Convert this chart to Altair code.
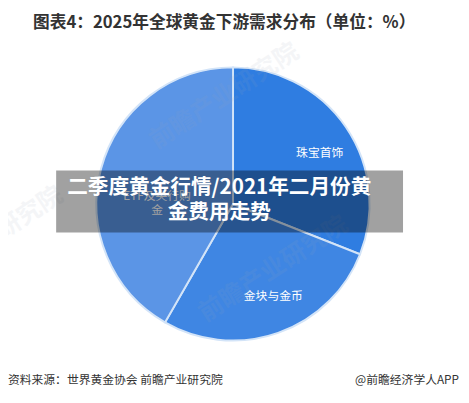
import altair as alt
import pandas as pd

# ---- data ----
categories = ["珠宝首饰", "金块与金币", "ETF及央行购金"]
values = [31.0, 27.3, 41.7]
slice_order = [1, 2, 3]
label_a = ["珠宝首饰", "", ""]
label_b = ["", "金块与金币", ""]
label_c = ["", "", "ETF及央行购\n金"]
colors = ["#2f7de1", "#3f86e3", "#5b95e6"]

title_text = "图表4：2025年全球黄金下游需求分布（单位：%）"
banner_lines = ["二季度黄金行情/2021年二月份黄", "金费用走势"]
source_text = "资料来源：世界黄金协会 前瞻产业研究院"
brand_text = "@前瞻经济学人APP"
watermark_text = "前瞻产业研究院"

FONT = "Noto Sans CJK SC"
CX, CY, R = 229, 196, 139

df = pd.DataFrame({
    "cat": categories,
    "val": values,
    "ord": slice_order,
    "la": label_a,
    "lb": label_b,
    "lc": label_c,
})

base = alt.Chart(df).encode(
    theta=alt.Theta("val:Q", stack=True),
    order=alt.Order("ord:Q"),
    x=alt.value(CX),
    y=alt.value(CY),
)

pie = base.mark_arc(outerRadius=R, stroke="#d3e4f8", strokeWidth=2).encode(
    color=alt.Color("cat:N", scale=alt.Scale(domain=categories, range=colors), legend=None)
)

lab_a = base.mark_text(radius=103, fontSize=12, color="white", font=FONT, dx=3, dy=6).encode(text="la:N")
lab_b = base.mark_text(radius=103, fontSize=12, color="white", font=FONT, dx=7, dy=-3).encode(text="lb:N")
lab_c = base.mark_text(radius=80, fontSize=12, color="white", font=FONT,
                       lineBreak="\n", dy=13).encode(text="lc:N")

one = pd.DataFrame({"k": [0]})

wm = pd.DataFrame({"t": [watermark_text, watermark_text, watermark_text],
                   "px": [220, 270, -20], "py": [86, 262, 232]})
watermark = alt.Chart(wm).mark_text(fontSize=25, angle=327, color="#9aa6b8",
                                    opacity=0.10, font=FONT, fontWeight="bold").encode(
    text="t:N", x=alt.X("px:Q", scale=None), y=alt.Y("py:Q", scale=None)
)

banner = alt.Chart(one).mark_rect(color="black", opacity=0.37).encode(
    x=alt.value(49), x2=alt.value(402), y=alt.value(162), y2=alt.value(225)
)

bdf = pd.DataFrame({"t": banner_lines, "py": [180, 205]})
banner_text = alt.Chart(bdf).mark_text(fontSize=21, fontWeight="bold", color="white",
                                       font=FONT).encode(
    text="t:N", x=alt.value(215), y=alt.Y("py:Q", scale=None)
)

title = alt.Chart(one).mark_text(fontSize=17, fontWeight="bold", color="#333333",
                                 font=FONT).encode(
    text=alt.value(title_text), x=alt.value(220), y=alt.value(12)
)

src = alt.Chart(one).mark_text(fontSize=12, color="#333333", font=FONT, align="left").encode(
    text=alt.value(source_text), x=alt.value(0), y=alt.value(375)
)
brand = alt.Chart(one).mark_text(fontSize=12, color="#333333", font=FONT, align="right").encode(
    text=alt.value(brand_text), x=alt.value(459), y=alt.value(375)
)

chart = alt.layer(pie, lab_a, lab_b, lab_c, watermark, banner, banner_text, title, src, brand).properties(
    width=461, height=388, autosize="none", padding=0
).configure_view(stroke=None)

chart.save("out.html", embed_options={"renderer": "svg", "actions": False})
